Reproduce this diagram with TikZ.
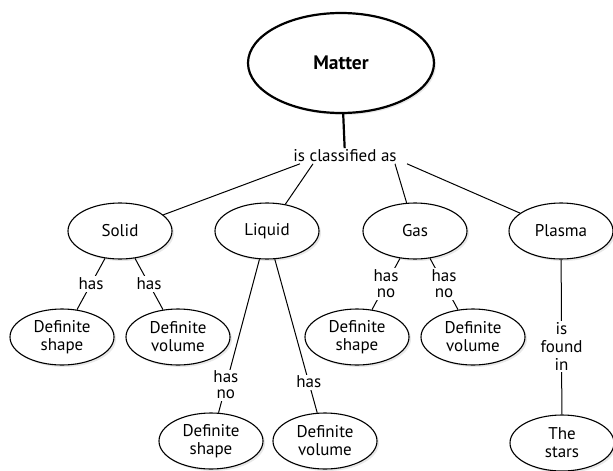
\documentclass[tikz,border=0pt]{standalone}
\usepackage{fontspec}
\setmainfont{PT Sans}
\usetikzlibrary{shapes.geometric,shadows}
\begin{document}
\begin{tikzpicture}[x=1pt,y=-1pt,
  conc/.style={ellipse,draw,line width=1.1pt,fill=white,inner sep=0pt,
    minimum width=104pt,minimum height=56pt,align=center,
    font=\fontsize{17}{18}\selectfont,
    drop shadow={shadow xshift=2pt,shadow yshift=-2pt,opacity=0.18,fill=gray}},
  bigc/.style={conc,line width=2.2pt,minimum width=186pt,minimum height=100pt,
    font=\fontsize{19.5}{20}\selectfont\bfseries},
  lbl/.style={fill=white,inner sep=1.5pt,align=center,font=\fontsize{17}{16}\selectfont},
  link/.style={line width=1pt}]
\useasboundingbox (0,0) rectangle (613,471);
\node[bigc] (matter) at (341,63) {Matter};
\node[lbl,font=\fontsize{17}{18}\selectfont] (cls) at (345,156) {is classified as};
\node[conc] (solid) at (120,231) {Solid};
\node[conc] (liquid) at (267,231) {Liquid};
\node[conc] (gas) at (415,231) {Gas};
\node[conc] (plasma) at (561,231) {Plasma};
\node[conc] (s1) at (62,337) {Definite\\shape};
\node[conc] (s2) at (178,337) {Definite\\volume};
\node[conc] (g1) at (357,337) {Definite\\shape};
\node[conc] (g2) at (473,337) {Definite\\volume};
\node[conc] (l1) at (211,441) {Definite\\shape};
\node[conc] (l2) at (325,441) {Definite\\volume};
\node[conc] (stars) at (562,443) {The\\stars};
\coordinate (c1) at ([xshift=-45pt]cls.south);
\coordinate (c2) at ([xshift=-32pt]cls.south);
\coordinate (c3) at ([xshift=50pt]cls.south);
\coordinate (c4) at ([xshift=62pt]cls.south);
\draw[line width=2.2pt] (matter) -- (cls);
\draw[link] (c1) -- (solid);
\draw[link] (c2) -- (liquid);
\draw[link] (c3) -- (gas);
\draw[link] (c4) -- (plasma);
\draw[link] (solid) -- node[lbl,pos=0.5] {has} (s1);
\draw[link] (solid) -- node[lbl,pos=0.5] {has} (s2);
\draw[link] (gas) -- node[lbl,pos=0.5] {has\\no} (g1);
\draw[link] (gas) -- node[lbl,pos=0.5] {has\\no} (g2);
\draw[link] (liquid) -- node[lbl,pos=0.82] {has\\no} (l1);
\draw[link] (liquid) -- node[lbl,pos=0.8] {has} (l2);
\draw[link] (plasma) -- node[lbl,pos=0.56,font=\fontsize{17}{18}\selectfont] {is\\found\\in} (stars);
\end{tikzpicture}
\end{document}
